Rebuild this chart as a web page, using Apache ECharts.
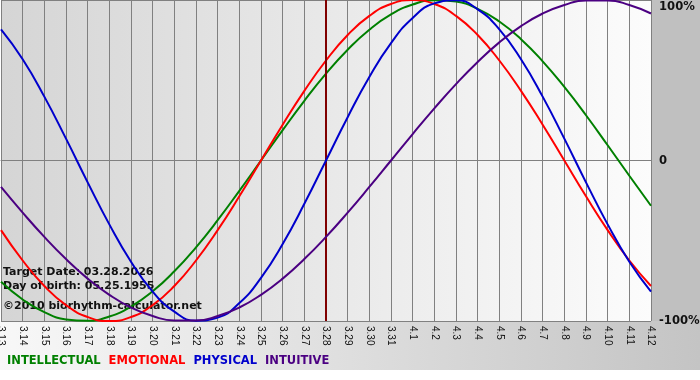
<!DOCTYPE html>
<html>
<head>
<meta charset="utf-8">
<script src="https://cdn.jsdelivr.net/npm/echarts@6/dist/echarts.min.js"></script>
<style>html,body{margin:0;padding:0;background:#fff}#c{width:700px;height:380px}</style>
</head>
<body>
<div id="c"></div>
<script>
var categories = ['3.13','3.14','3.15','3.16','3.17','3.18','3.19','3.20','3.21','3.22','3.23','3.24','3.25','3.26','3.27','3.28','3.29','3.30','3.31','4.1','4.2','4.3','4.4','4.5','4.6','4.7','4.8','4.9','4.10','4.11','4.12'];
var intellectual = [-75.6,-86.6,-94.5,-99.0,-99.9,-97.2,-91.0,-81.5,-69.0,-54.1,-37.2,-18.9,0,18.9,37.2,54.1,69.0,81.5,91.0,97.2,99.9,99.0,94.5,86.6,75.6,61.8,45.8,28.2,9.5,-9.5,-28.2];
var emotional = [-43.4,-62.3,-78.2,-90.1,-97.5,-100,-97.5,-90.1,-78.2,-62.3,-43.4,-22.3,0,22.3,43.4,62.3,78.2,90.1,97.5,100,97.5,90.1,78.2,62.3,43.4,22.3,0,-22.3,-43.4,-62.3,-78.2];
var physical = [81.7,63.1,39.8,13.6,-13.6,-39.8,-63.1,-81.7,-94.2,-99.8,-97.9,-88.8,-73.1,-52.0,-27.0,0,27.0,52.0,73.1,88.8,97.9,99.8,94.2,81.7,63.1,39.8,13.6,-13.6,-39.8,-63.1,-81.7];
var intuitive = [-16.5,-32.5,-47.6,-61.4,-73.6,-83.7,-91.6,-96.9,-99.7,-99.7,-96.9,-91.6,-83.7,-73.6,-61.4,-47.6,-32.5,-16.5,0,16.5,32.5,47.6,61.4,73.6,83.7,91.6,96.9,99.7,99.7,96.9,91.6];
var seriesNames = ['INTELLECTUAL','EMOTIONAL','PHYSICAL','INTUITIVE'];
var seriesColors = ['#008000','#ff0000','#0000cc','#4b0082'];
var targetDate = '3.28';
var yTicks = [-100, 0, 100];
var yTickLabels = ['-100%', '0', '100%'];
var infoLines = ['Target Date: 03.28.2026', 'Day of birth: 05.25.1955', '\u00a92010 biorhythm-calculator.net'];

var chart = echarts.init(document.getElementById('c'), null, {renderer: 'canvas'});
var allData = [intellectual, emotional, physical, intuitive];

var series = seriesNames.map(function (n, i) {
  return {
    name: n, type: 'line', data: allData[i], smooth: true, symbol: 'none', z: 3 + i,
    lineStyle: {color: seriesColors[i], width: 2}, itemStyle: {color: seriesColors[i]}
  };
});
series.push({
  name: 'target', type: 'line', data: [], z: 2, silent: true,
  markLine: {symbol: 'none', silent: true, label: {show: false},
    lineStyle: {color: '#800000', width: 2, type: 'solid'},
    data: [{xAxis: targetDate}]}
});

chart.setOption({
  animation: false,
  backgroundColor: '#ffffff',
  grid: {left: 1, right: 49, top: 0, bottom: 59, show: true, borderWidth: 0,
    outerBoundsMode: 'none', containLabel: false,
    backgroundColor: {type: 'linear', x: 0, y: 0, x2: 1, y2: 0,
      colorStops: [{offset: 0, color: '#d5d5d5'}, {offset: 1, color: '#fcfcfc'}]}},
  legend: {left: 2, top: 355, icon: 'none', itemWidth: 0, itemHeight: 12, itemGap: 3,
    selectedMode: false, padding: 0,
    textStyle: {fontFamily: 'DejaVu Sans', fontWeight: 'bold', fontSize: 11.5},
    data: seriesNames.map(function (n, i) {
      return {name: n, textStyle: {color: seriesColors[i], fontFamily: 'DejaVu Sans', fontWeight: 'bold', fontSize: 11.5}};
    })},
  xAxis: {
    type: 'category', data: categories, boundaryGap: false,
    axisLine: {lineStyle: {color: '#808080', width: 1}},
    axisTick: {show: true, interval: 0, length: 4, lineStyle: {color: '#808080'}},
    splitLine: {show: true, interval: 0, lineStyle: {color: '#808080', width: 1}},
    axisLabel: {interval: 0, rotate: -90, margin: 5, fontFamily: 'Liberation Sans', fontSize: 10, color: '#111'}
  },
  yAxis: {
    type: 'value', position: 'right', min: -100, max: 100, interval: 100,
    axisLine: {show: false}, axisTick: {show: false},
    splitLine: {show: true, lineStyle: {color: '#808080', width: 1}},
    axisLabel: {
      margin: 8, fontFamily: 'DejaVu Sans', fontWeight: 'bold', fontSize: 11.6, color: '#111',
      formatter: function (v) {
        var s = yTickLabels[yTicks.indexOf(v)];
        return v === yTicks[yTicks.length - 1] ? '{t|' + s + '}' : s;
      },
      rich: {t: {fontFamily: 'DejaVu Sans', fontWeight: 'bold', fontSize: 11.6, color: '#111', padding: [14, 0, 0, 0]}}
    }
  },
  graphic: [
    {type: 'rect', z: -10, silent: true, shape: {x: 651, y: 0, width: 49, height: 321}, style: {fill: '#c0c0c0'}},
    {type: 'rect', z: -10, silent: true, shape: {x: 0, y: 321, width: 700, height: 49},
      style: {fill: {type: 'linear', x: 0, y: 0, x2: 1, y2: 0,
        colorStops: [{offset: 0, color: '#f8f8f8'}, {offset: 1, color: '#c4c4c4'}]}}},
    {type: 'text', z: 1, silent: true, left: 3, top: 267, style: {text: infoLines[0], fill: '#111', font: 'bold 11px "DejaVu Sans"'}},
    {type: 'text', z: 1, silent: true, left: 3, top: 281, style: {text: infoLines[1], fill: '#111', font: 'bold 11px "DejaVu Sans"'}},
    {type: 'text', z: 1, silent: true, left: 3, top: 301, style: {text: infoLines[2], fill: '#111', font: 'bold 11px "DejaVu Sans"'}}
  ],
  series: series
});
</script>
</body>
</html>
